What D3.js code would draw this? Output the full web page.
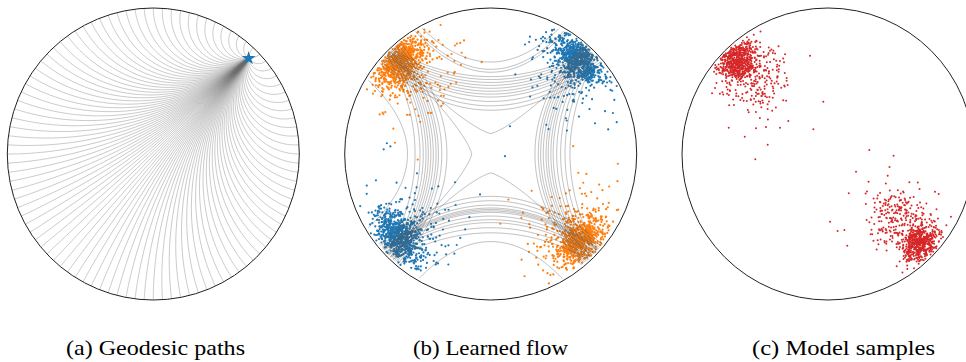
<!DOCTYPE html>
<html>
<head>
<meta charset="utf-8">
<script src="https://cdn.jsdelivr.net/npm/d3@7"></script>
<style>
  body { margin: 0; background: #fff; }
  svg { display: block; }
</style>
</head>
<body>
<svg id="fig" width="966" height="362"></svg>
<script>
// ---------------- data (Poincaré disk coordinates, y up) ----------------
const captions = ["(a) Geodesic paths", "(b) Learned flow", "(c) Model samples"];

// (a) geodesics from one source point to evenly spaced ideal boundary points
const geodesicSource = [0.653, 0.655];
const geodesicCount = 100;
const geodesicTargets = d3.range(geodesicCount).map(i => (2 * Math.PI * i) / geodesicCount);

// (b) flow trajectories: closest approach to the disk centre for each line, per side
const flowTop    = [0.63, 0.58, 0.56, 0.53, 0.51, 0.49, 0.47, 0.45, 0.43, 0.41, 0.39, 0.36, 0.33, 0.30, 0.14];
const flowRight  = [0.543, 0.509, 0.479, 0.452, 0.428, 0.412, 0.394, 0.379, 0.36, 0.342, 0.326, 0.303];
const flowBottom = [0.60, 0.54, 0.505, 0.47, 0.45, 0.425, 0.40, 0.39, 0.38, 0.37, 0.35, 0.32, 0.29, 0.13];
const flowLeft   = [0.57, 0.518, 0.484, 0.462, 0.443, 0.427, 0.41, 0.393, 0.374, 0.358, 0.335, 0.30, 0.13];

// (b) data clusters
const learnedCenters = [[-0.62, 0.625], [0.60, 0.645], [-0.63, -0.565], [0.61, -0.59]];
const learnedGroups  = ["target", "source", "source", "target"];
const learnedCoreN   = [700, 700, 700, 700];
const learnedHaloN   = [150, 150, 150, 150];
const learnedOutliers = [
  { g: "source", p: [0.098, -0.015] }, { g: "source", p: [0.132, 0.19] },
  { g: "source", p: [-0.849, -0.216] }, { g: "source", p: [-0.786, -0.18] },
  { g: "target", p: [-0.655, 0.077] }, { g: "target", p: [-0.50, -0.038] },
  { g: "target", p: [0.60, -0.129] }, { g: "target", p: [0.634, -0.197] },
  { g: "source", p: [0.805, 0.168] }, { g: "source", p: [0.783, 0.293] },
  { g: "target", p: [-0.062, 0.629] }, { g: "target", p: [-0.245, 0.743] },
  { g: "source", p: [0.235, 0.75] }, { g: "source", p: [-0.073, -0.277] },
  { g: "target", p: [0.121, -0.312] }, { g: "target", p: [0.429, -0.825] },
  { g: "source", p: [-0.29, -0.757] }
];

// (c) model samples
const sampleCenters = [[-0.625, 0.644], [0.63, -0.612]];
const sampleHaloCenters = [[-0.50, 0.51], [0.47, -0.44]];
const sampleCoreN = [560, 560];
const sampleHaloN = [230, 230];
const sampleOutliers = [
  [-0.123, 0.673], [-0.032, 0.358], [-0.272, 0.226], [-0.10, 0.169], [-0.329, 0.18],
  [-0.493, 0.176], [-0.68, 0.18], [-0.413, 0.064], [-0.498, -0.036], [0.283, 0.027],
  [0.192, -0.121], [0.142, -0.269], [0.014, -0.464], [0.066, -0.527], [0.112, -0.521],
  [0.132, -0.628], [0.733, -0.258], [0.758, -0.274], [0.842, -0.43]
];

// ---------------- layout ----------------
const svg = d3.select("#fig");
const panelCx = [153.3, 490.7, 828];
const panelCy = 154;
const panelR = 146;
const captionX = [66, 413, 752];
const captionW = [179, 155, 183];
const captionY = 355;

const colour = d3.scaleOrdinal().domain(["source", "target"]).range(["#1f77b4", "#ff7f0e"]);
const sampleColour = "#d62728";

function scalesFor(i) {
  const cx = panelCx[i];
  return {
    x: d3.scaleLinear().domain([-1, 1]).range([cx - panelR, cx + panelR]),
    y: d3.scaleLinear().domain([-1, 1]).range([panelCy + panelR, panelCy - panelR])
  };
}

// ---------------- complex helpers for Möbius maps ----------------
const cmul = (a, b) => [a[0] * b[0] - a[1] * b[1], a[0] * b[1] + a[1] * b[0]];
const cdiv = (a, b) => { const d = b[0] * b[0] + b[1] * b[1]; return [(a[0] * b[0] + a[1] * b[1]) / d, (a[1] * b[0] - a[0] * b[1]) / d]; };
const conj = a => [a[0], -a[1]];

// geodesic from p to the ideal point at angle theta
function geodesic(p, theta) {
  const q = [Math.cos(theta), Math.sin(theta)];
  const pq = cmul(conj(p), q);
  const w = cdiv([q[0] - p[0], q[1] - p[1]], [1 - pq[0], -pq[1]]);
  const pts = [];
  const n = 260;
  for (let k = 0; k <= n; k++) {
    const s = k / n;
    const t = 1 - Math.pow(1 - s, 3);
    const wt = [w[0] * t, w[1] * t];
    const cp = cmul(conj(p), wt);
    pts.push(cdiv([wt[0] + p[0], wt[1] + p[1]], [1 + cp[0], cp[1]]));
  }
  return pts;
}

// flow line in a side-aligned frame (u along the side, v toward that side)
function flowLine(m) {
  const aU = 0.56;
  const inner = m < 0.2;
  const aV = inner ? 0.57 : 0.57 + (m - 0.42) * 0.8;   // lines fan out through a cluster
  const pts = [];
  for (let u = -0.99; u <= 0.99001; u += 0.005) {
    let v;
    if (m < 0.55) {
      const p = inner ? 1.3 : 2;
      v = m + (aV - m) * Math.pow(Math.abs(u) / aU, p);
    } else {
      v = m + 1.05 * u * u;
    }
    if (Math.hypot(u, v) < 0.985) pts.push([u, v]);
  }
  return pts;
}
const sideFrames = {
  top:    ([u, v]) => [u, v],
  right:  ([u, v]) => [v, u],
  bottom: ([u, v]) => [u, -v],
  left:   ([u, v]) => [-v, u]
};

// clusters: elliptical normal, stretched along the boundary tangent
function cluster(rng, c, n, sdT, sdR, shiftIn) {
  const len = Math.hypot(c[0], c[1]);
  const rr = [c[0] / len, c[1] / len];
  const tt = [-rr[1], rr[0]];
  const base = [c[0] - rr[0] * shiftIn, c[1] - rr[1] * shiftIn];
  const out = [];
  let guard = 0;
  while (out.length < n && guard++ < n * 20) {
    const a = rng() * sdT, b = rng() * sdR;
    const p = [base[0] + tt[0] * a + rr[0] * b, base[1] + tt[1] * a + rr[1] * b];
    if (Math.hypot(p[0], p[1]) < 0.985) out.push(p);
  }
  return out;
}
function blob(rng, c, n, sd) {
  const out = [];
  let guard = 0;
  while (out.length < n && guard++ < n * 20) {
    const p = [c[0] + rng() * sd, c[1] + rng() * sd];
    if (Math.hypot(p[0], p[1]) < 0.985) out.push(p);
  }
  return out;
}

// ---------------- panel (a): geodesic paths ----------------
{
  const { x, y } = scalesFor(0);
  const g = svg.append("g");
  const line = d3.line().x(d => x(d[0])).y(d => y(d[1]));
  g.selectAll("path.geo").data(geodesicTargets).join("path")
    .attr("class", "geo")
    .attr("d", th => line(geodesic(geodesicSource, th)))
    .attr("fill", "none").attr("stroke", "#6a6a6a")
    .attr("stroke-opacity", 0.45).attr("stroke-width", 0.8);
  g.append("circle").attr("cx", x(0)).attr("cy", y(0)).attr("r", x(1) - x(0))
    .attr("fill", "none").attr("stroke", "#222").attr("stroke-width", 1);
  g.append("path")
    .attr("d", d3.symbol(d3.symbolStar, 60)())
    .attr("transform", `translate(${x(geodesicSource[0])},${y(geodesicSource[1])})`)
    .attr("fill", "#1f77b4");
}

// ---------------- panel (b): learned flow ----------------
{
  const { x, y } = scalesFor(1);
  const g = svg.append("g");
  const rng = d3.randomNormal.source(d3.randomLcg(0.271828))(0, 1);
  const pts = [];
  learnedCenters.forEach((c, i) => {
    cluster(rng, c, learnedCoreN[i], 0.1, 0.065, 0.0).forEach(p => pts.push({ g: learnedGroups[i], p }));
    cluster(rng, c, learnedHaloN[i], 0.17, 0.14, 0.1).forEach(p => pts.push({ g: learnedGroups[i], p }));
  });
  learnedOutliers.forEach(o => pts.push(o));
  d3.shuffle(pts, d3.randomLcg(0.5));
  g.selectAll("circle.pt").data(pts).join("circle")
    .attr("class", "pt")
    .attr("cx", d => x(d.p[0])).attr("cy", d => y(d.p[1])).attr("r", 1.1)
    .attr("fill", d => colour(d.g));

  const line = d3.line().x(d => x(d[0])).y(d => y(d[1]));
  const flows = [];
  flowTop.forEach(m => flows.push(flowLine(m).map(sideFrames.top)));
  flowRight.forEach(m => flows.push(flowLine(m).map(sideFrames.right)));
  flowBottom.forEach(m => flows.push(flowLine(m).map(sideFrames.bottom)));
  flowLeft.forEach(m => flows.push(flowLine(m).map(sideFrames.left)));
  g.selectAll("path.flow").data(flows).join("path")
    .attr("class", "flow").attr("d", line)
    .attr("fill", "none").attr("stroke", "#555")
    .attr("stroke-opacity", 0.5).attr("stroke-width", 0.75);

  g.append("circle").attr("cx", x(0)).attr("cy", y(0)).attr("r", x(1) - x(0))
    .attr("fill", "none").attr("stroke", "#222").attr("stroke-width", 1);
}

// ---------------- panel (c): model samples ----------------
{
  const { x, y } = scalesFor(2);
  const g = svg.append("g");
  const rng = d3.randomNormal.source(d3.randomLcg(0.314159))(0, 1);
  const pts = [];
  sampleCenters.forEach((c, i) => {
    cluster(rng, c, sampleCoreN[i], 0.075, 0.06, 0.0).forEach(p => pts.push(p));
    blob(rng, sampleHaloCenters[i], sampleHaloN[i], 0.11).forEach(p => pts.push(p));
  });
  sampleOutliers.forEach(p => pts.push(p));
  g.selectAll("circle.pt").data(pts).join("circle")
    .attr("class", "pt")
    .attr("cx", d => x(d[0])).attr("cy", d => y(d[1])).attr("r", 1.0)
    .attr("fill", sampleColour);
  g.append("circle").attr("cx", x(0)).attr("cy", y(0)).attr("r", x(1) - x(0))
    .attr("fill", "none").attr("stroke", "#222").attr("stroke-width", 1);
}

// ---------------- captions ----------------
svg.selectAll("text.caption").data(captions).join("text")
  .attr("class", "caption")
  .attr("x", (d, i) => captionX[i]).attr("y", captionY)
  .attr("textLength", (d, i) => captionW[i])
  .attr("lengthAdjust", "spacingAndGlyphs")
  .attr("font-family", "'Liberation Serif', 'Times New Roman', Times, serif")
  .attr("font-size", 22).attr("fill", "#000")
  .text(d => d);
</script>
</body>
</html>
